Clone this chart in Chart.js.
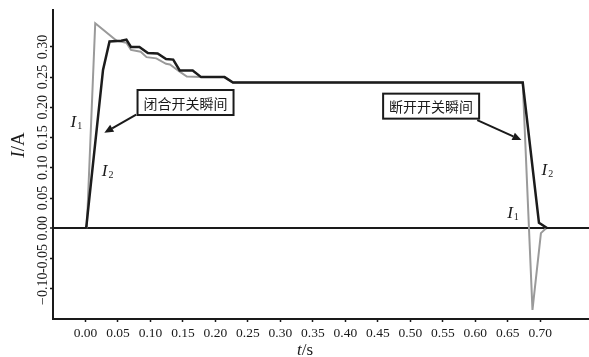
<!DOCTYPE html>
<html>
<head>
<meta charset="utf-8">
<script src="https://cdn.jsdelivr.net/npm/chart.js@4"></script>
<style>
  body { margin: 0; background: #fff; }
  #wrap { width: 589px; height: 357px; }
</style>
</head>
<body>
<div id="wrap"><canvas id="myChart"></canvas></div>
<script>
// I2 (black) - time in s, current in A
const i2Time = [0.001, 0.027, 0.037, 0.055, 0.063, 0.070, 0.083, 0.096, 0.111, 0.124, 0.135, 0.145, 0.165, 0.178, 0.214, 0.227, 0.673, 0.698, 0.711];
const i2Amp  = [0.000, 0.262, 0.309, 0.310, 0.312, 0.300, 0.300, 0.290, 0.289, 0.280, 0.279, 0.261, 0.261, 0.250, 0.250, 0.241, 0.241, 0.009, 0.000];

// I1 (grey)
const i1Time = [0.002, 0.015, 0.048, 0.063, 0.070, 0.085, 0.094, 0.109, 0.124, 0.130, 0.145, 0.156, 0.178, 0.214, 0.227, 0.673, 0.688, 0.701, 0.709];
const i1Amp  = [0.000, 0.339, 0.310, 0.307, 0.295, 0.292, 0.283, 0.281, 0.272, 0.271, 0.259, 0.251, 0.250, 0.250, 0.241, 0.241, -0.135, -0.008, 0.000];

const xTicks = [0.00, 0.05, 0.10, 0.15, 0.20, 0.25, 0.30, 0.35, 0.40, 0.45, 0.50, 0.55, 0.60, 0.65, 0.70];
const yTicks = [-0.10, -0.05, 0.00, 0.05, 0.10, 0.15, 0.20, 0.25, 0.30];
const yTickLabels = ['\u22120.10', '-0.05', '0.00', '0.05', '0.10', '0.15', '0.20', '0.25', '0.30'];

// callout boxes with arrows (data coords)
const notes = [
  {text: '闭合开关瞬间', t: 0.154, v: 0.208, fromT: 0.078, fromV: 0.188, toT: 0.029, toV: 0.158},
  {text: '断开开关瞬间', t: 0.532, v: 0.202, fromT: 0.603, fromV: 0.179, toT: 0.671, toV: 0.146}
];
// curve names
const tags = [
  {sub: '1', t: -0.014, v: 0.178},
  {sub: '2', t: 0.034, v: 0.097},
  {sub: '2', t: 0.711, v: 0.098},
  {sub: '1', t: 0.658, v: 0.027}
];

const serif = '"Liberation Serif", "DejaVu Serif", serif';

function italicName(ctx, cx, cy, sub) {
  ctx.font = 'italic 17px ' + serif;
  const w1 = ctx.measureText('I').width;
  ctx.font = '10px ' + serif;
  const w2 = ctx.measureText(sub).width;
  const x0 = cx - (w1 + w2 + 1) / 2;
  ctx.textBaseline = 'alphabetic';
  ctx.textAlign = 'left';
  ctx.font = 'italic 17px ' + serif;
  ctx.fillText('I', x0, cy + 6);
  ctx.font = '10px ' + serif;
  ctx.fillText(sub, x0 + w1 + 1, cy + 8);
}

function arrow(ctx, x1, y1, x2, y2) {
  const a = Math.atan2(y2 - y1, x2 - x1);
  const len = 9, half = 4;
  const bx = x2 - len * Math.cos(a), by = y2 - len * Math.sin(a);
  ctx.beginPath();
  ctx.moveTo(x1, y1);
  ctx.lineTo(bx, by);
  ctx.lineWidth = 2;
  ctx.stroke();
  ctx.beginPath();
  ctx.moveTo(x2, y2);
  ctx.lineTo(bx + half * Math.sin(a), by - half * Math.cos(a));
  ctx.lineTo(bx - half * Math.sin(a), by + half * Math.cos(a));
  ctx.closePath();
  ctx.fill();
}

const decor = {
  id: 'decor',
  afterDraw(chart) {
    const ctx = chart.ctx;
    const xs = chart.scales.x, ys = chart.scales.y;
    ctx.save();
    ctx.fillStyle = '#1a1a1a';
    ctx.strokeStyle = '#1a1a1a';

    // rotated y tick labels
    ctx.font = '14px ' + serif;
    ctx.textAlign = 'center';
    ctx.textBaseline = 'middle';
    yTicks.forEach((v, i) => {
      ctx.save();
      ctx.translate(43, ys.getPixelForValue(v));
      ctx.rotate(-Math.PI / 2);
      ctx.fillText(yTickLabels[i], 0, 0);
      ctx.restore();
    });

    // y title  I/A
    ctx.save();
    ctx.translate(19, 145);
    ctx.rotate(-Math.PI / 2);
    ctx.font = 'italic 19px ' + serif;
    const wI = ctx.measureText('I').width;
    ctx.font = '19px ' + serif;
    const wA = ctx.measureText('/A').width;
    ctx.textAlign = 'left';
    ctx.textBaseline = 'middle';
    ctx.font = 'italic 19px ' + serif;
    ctx.fillText('I', -(wI + wA) / 2, 0);
    ctx.font = '19px ' + serif;
    ctx.fillText('/A', -(wI + wA) / 2 + wI, 0);
    ctx.restore();

    // x title  t/s
    ctx.font = 'italic 17px ' + serif;
    const wt = ctx.measureText('t').width;
    ctx.font = '17px ' + serif;
    const ws = ctx.measureText('/s').width;
    const tx = 305 - (wt + ws) / 2;
    ctx.textAlign = 'left';
    ctx.textBaseline = 'alphabetic';
    ctx.font = 'italic 17px ' + serif;
    ctx.fillText('t', tx, 355);
    ctx.font = '17px ' + serif;
    ctx.fillText('/s', tx + wt, 355);

    // callouts
    notes.forEach(n => {
      const cx = xs.getPixelForValue(n.t), cy = ys.getPixelForValue(n.v);
      ctx.font = '14px "Noto Sans CJK SC", sans-serif';
      const w = ctx.measureText(n.text).width + 12, h = 25;
      ctx.lineWidth = 2;
      ctx.fillStyle = '#fff';
      ctx.fillRect(cx - w / 2, cy - h / 2, w, h);
      ctx.strokeRect(cx - w / 2, cy - h / 2, w, h);
      ctx.fillStyle = '#1a1a1a';
      ctx.textAlign = 'center';
      ctx.textBaseline = 'middle';
      ctx.fillText(n.text, cx, cy + 1);
      arrow(ctx, xs.getPixelForValue(n.fromT), ys.getPixelForValue(n.fromV),
                 xs.getPixelForValue(n.toT), ys.getPixelForValue(n.toV));
    });

    // curve names
    tags.forEach(g => italicName(ctx, xs.getPixelForValue(g.t), ys.getPixelForValue(g.v), g.sub));
    ctx.restore();
  }
};

new Chart(document.getElementById('myChart').getContext('2d'), {
  type: 'scatter',
  data: {
    datasets: [
      {
        label: 'I2',
        data: i2Time.map((t, i) => ({x: t, y: i2Amp[i]})),
        showLine: true,
        borderColor: '#1c1c1c',
        borderWidth: 2.5,
        pointRadius: 0,
        tension: 0
      },
      {
        label: 'I1',
        data: i1Time.map((t, i) => ({x: t, y: i1Amp[i]})),
        showLine: true,
        borderColor: '#9a9a9a',
        borderWidth: 2,
        pointRadius: 0,
        tension: 0
      }
    ]
  },
  options: {
    responsive: true,
    maintainAspectRatio: false,
    animation: false,
    layout: {padding: {top: 10, right: 0, left: 0, bottom: 0}},
    plugins: {legend: {display: false}, tooltip: {enabled: false}},
    scales: {
      x: {
        type: 'linear',
        min: -0.05,
        max: 0.775,
        afterBuildTicks: s => { s.ticks = xTicks.map(v => ({value: v})); },
        afterFit: s => { s.height = 38; },
        border: {color: '#1a1a1a', width: 2},
        grid: {drawOnChartArea: false, tickLength: 3, tickColor: '#1a1a1a', tickWidth: 1.5},
        ticks: {
          font: {family: serif, size: 13.5},
          color: '#1a1a1a',
          maxRotation: 0,
          autoSkip: false,
          padding: 3,
          callback: v => v.toFixed(2)
        }
      },
      y: {
        type: 'linear',
        min: -0.15,
        max: 0.361,
        afterBuildTicks: s => { s.ticks = yTicks.map(v => ({value: v})); },
        afterFit: s => { s.width = 53; },
        border: {color: '#1a1a1a', width: 2},
        grid: {
          color: c => (c.tick && c.tick.value === 0) ? '#1a1a1a' : 'rgba(0,0,0,0)',
          lineWidth: c => (c.tick && c.tick.value === 0) ? 2 : 1,
          tickLength: 3,
          tickColor: '#1a1a1a',
          tickWidth: 1.5
        },
        ticks: {display: false}
      }
    }
  },
  plugins: [decor]
});
</script>
</body>
</html>
